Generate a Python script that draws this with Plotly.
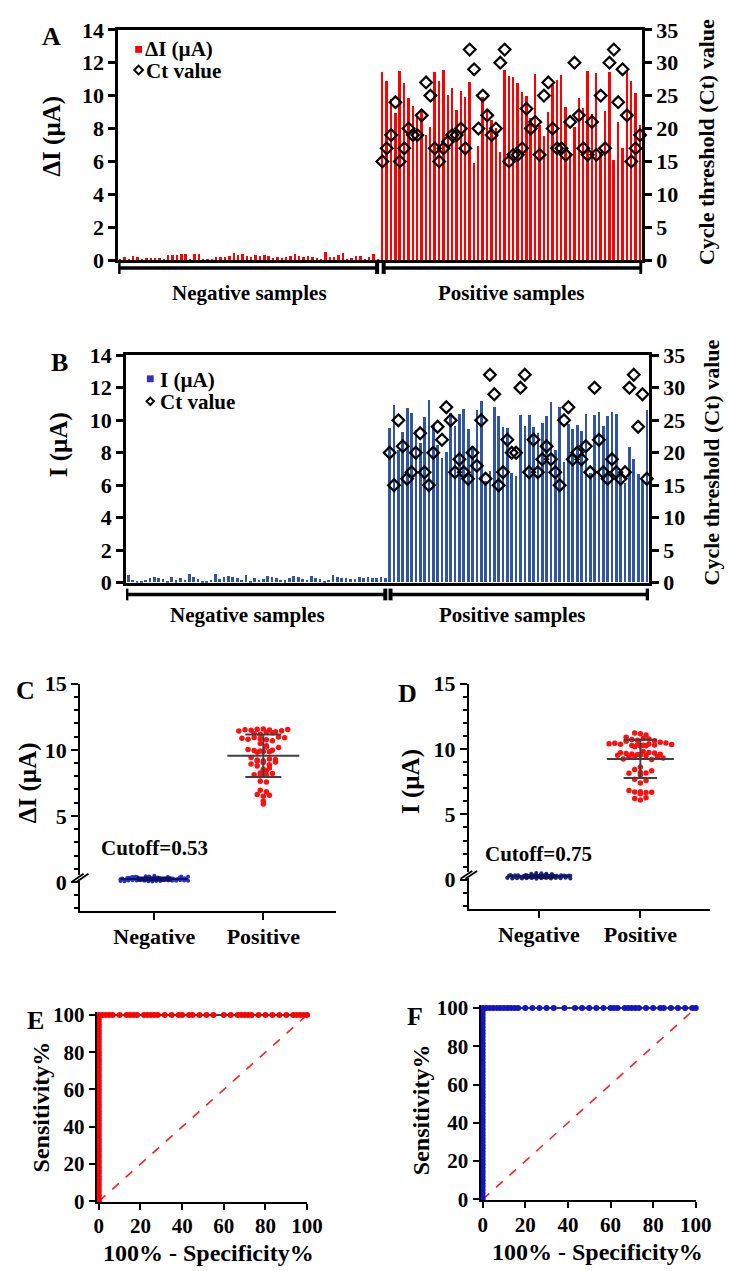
import numpy as np
import plotly.graph_objects as go

W, H = 733, 1271
def px(x): return x / W
def py(y): return 1 - y / H

FONT = "Liberation Serif"

# ---------------- data ----------------
A_neg = [0.08,0.21,0.05,0.26,0.19,0.11,0.13,0.12,0.17,0.14,0.09,0.31,0.33,0.32,0.38,0.37,0.06,0.39,0.36,0.04,
         0.07,0.08,0.18,0.22,0.23,0.24,0.43,0.35,0.41,0.28,0.22,0.30,0.27,0.34,0.29,0.15,0.18,0.16,0.20,0.25,
         0.38,0.28,0.21,0.27,0.19,0.12,0.10,0.48,0.20,0.23,0.34,0.42,0.10,0.13,0.25,0.29,0.11,0.20,0.39,0.09]
A_pos = [11.42,10.88,9.81,8.93,11.51,10.79,9.87,9.41,8.78,9.22,7.63,8.12,11.47,10.93,11.55,10.02,10.48,9.13,10.31,9.94,
         10.83,5.91,6.94,9.90,9.18,8.52,8.04,6.61,11.58,11.21,11.17,10.76,10.22,9.96,8.63,11.33,8.24,7.57,9.03,10.68,
         10.97,11.28,9.31,6.48,8.09,9.85,9.27,11.50,8.87,11.36,6.57,9.08,11.44,6.13,8.41,6.82,11.53,10.91,10.17,8.20]
A_ct = [15,17,19,24,15,17,20,19,19,22,27,25,17,15,17,18,19,19,20,17,
        32,29,20,25,22,19,20,30,32,15,16,16,17,23,20,21,16,25,27,20,
        17,17,16,21,30,22,17,16,21,16,25,17,30,32,24,29,22,15,17,19]

B_neg = [0.45,0.15,0.09,0.11,0.16,0.30,0.36,0.29,0.20,0.10,0.35,0.12,0.25,0.14,0.52,0.34,0.24,0.08,0.11,0.17,
         0.50,0.21,0.31,0.37,0.33,0.26,0.13,0.46,0.09,0.28,0.16,0.23,0.38,0.34,0.27,0.14,0.12,0.26,0.41,0.32,
         0.19,0.15,0.40,0.29,0.22,0.10,0.18,0.44,0.31,0.27,0.30,0.24,0.21,0.35,0.28,0.33,0.29,0.25,0.32,0.30]
B_pos = [9.52,10.91,8.14,9.23,10.72,10.41,9.38,8.61,10.18,11.22,9.71,8.43,7.68,8.02,10.44,9.66,10.36,10.68,9.45,8.21,
         10.59,11.17,6.22,6.83,10.81,10.27,9.54,9.49,6.71,6.58,10.33,9.62,10.29,9.58,9.19,9.82,10.24,11.08,8.17,10.77,
         7.41,9.74,9.42,9.69,9.31,10.38,6.74,10.31,10.52,9.61,10.26,10.47,10.34,6.67,6.11,8.33,7.59,6.69,6.28,10.63]
B_ct = [20,15,25,21,16,17,20,23,17,15,20,24,22,27,25,17,19,17,16,20,
        18,25,16,32,29,15,17,22,20,20,30,32,17,22,17,19,21,19,17,15,
        25,27,19,20,19,21,17,30,22,17,16,19,17,16,17,30,32,24,29,16]

groups = ["Negative", "Positive"]
bracket_labels = ["Negative samples", "Positive samples"]
legend_A = ["ΔI (µA)", "Ct value"]
legend_B = ["I (µA)", "Ct value"]
cutoff_C = "Cutoff=0.53"
cutoff_D = "Cutoff=0.75"

RED = "#ff0000"
BLUE_BAR = "#2f55a4"
BLUE_LEG = "#3430c0"

fig = go.Figure()

# ---------------- panels A & B (bars + Ct) ----------------
def bar_panel(neg, pos, ct, xa, ya, ya2, color, name, width):
    vals = list(neg) + list(pos)
    xs = np.arange(len(vals))
    fig.add_trace(go.Bar(x=xs, y=vals, marker=dict(color=color, line=dict(width=0)), width=width,
                         name=name, xaxis=xa, yaxis=ya, showlegend=False))
    xct = np.arange(len(neg), len(neg) + len(ct))
    fig.add_trace(go.Scatter(x=xct, y=ct, mode="markers", name="Ct value", showlegend=False,
                             marker=dict(symbol="diamond-open", size=9, color="black",
                                         line=dict(width=2.2, color="black")),
                             xaxis=xa, yaxis=ya2, cliponaxis=False))

bar_panel(A_neg, A_pos, A_ct, "x", "y", "y2", RED, legend_A[0], 0.55)
bar_panel(B_neg, B_pos, B_ct, "x2", "y3", "y4", BLUE_BAR, legend_B[0], 0.62)

# ---------------- panels C & D (scatter dot plots) ----------------
def swarm(vals, center, bin_size, dx, maxhalf):
    vals = np.asarray(vals, dtype=float)
    keys = np.round(vals / bin_size).astype(int)
    xs = np.empty(len(vals))
    for k in np.unique(keys):
        idx = np.where(keys == k)[0]
        n = len(idx)
        step = dx if n <= 1 else min(dx, 2 * maxhalf / (n - 1))
        xs[idx] = center + (np.arange(n) - (n - 1) / 2) * step
    return xs

def mean_sd_lines(vals, center, half_mean, half_sd):
    m = float(np.mean(vals)); s = float(np.std(vals, ddof=1))
    x = [center - half_mean, center + half_mean, None,
         center - half_sd, center + half_sd, None,
         center - half_sd, center + half_sd, None,
         center, center]
    y = [m, m, None, m + s, m + s, None, m - s, m - s, None, m - s, m + s]
    return x, y

def dot_panel(neg, pos, xa, ya, negcol):
    xn = swarm(neg, 0, 0.3, 0.05, 0.31)
    xp = swarm(pos, 1, 0.36, 0.056, 0.33)
    fig.add_trace(go.Scatter(x=xn, y=neg, mode="markers", showlegend=False,
                             marker=dict(size=4, color=negcol), xaxis=xa, yaxis=ya, cliponaxis=False))
    lx, ly = mean_sd_lines(neg, 0, 0.31, 0.16)
    fig.add_trace(go.Scatter(x=lx, y=ly, mode="lines", showlegend=False,
                             line=dict(color="#101060", width=1.8), xaxis=xa, yaxis=ya))
    fig.add_trace(go.Scatter(x=xp, y=pos, mode="markers", showlegend=False,
                             marker=dict(size=5.5, color="#ff1010"), xaxis=xa, yaxis=ya, cliponaxis=False))
    lx, ly = mean_sd_lines(pos, 1, 0.33, 0.165)
    fig.add_trace(go.Scatter(x=lx, y=ly, mode="lines", showlegend=False,
                             line=dict(color="#404040", width=2), xaxis=xa, yaxis=ya))

dot_panel(A_neg, A_pos, "x3", "y5", "#2233cc")
dot_panel(B_neg, B_pos, "x4", "y6", "#1a2a80")

# ---------------- panels E & F (ROC) ----------------
def roc(neg, pos):
    neg = np.asarray(neg); pos = np.asarray(pos)
    thr = np.unique(np.concatenate([neg, pos]))[::-1]
    fpr = [0.0]; tpr = [0.0]
    for t in thr:
        fpr.append(100 * np.mean(neg >= t)); tpr.append(100 * np.mean(pos >= t))
    return fpr, tpr

for neg, pos, xa, ya, col in [(A_neg, A_pos, "x5", "y7", "#ff0000"), (B_neg, B_pos, "x6", "y8", "#1414c8")]:
    f, t = roc(neg, pos)
    fig.add_trace(go.Scatter(x=[0, 100], y=[0, 100], mode="lines", showlegend=False,
                             line=dict(color="#ff2020", width=1.6, dash="dash"), xaxis=xa, yaxis=ya))
    fig.add_trace(go.Scatter(x=f, y=t, mode="lines+markers", showlegend=False,
                             line=dict(color="black", width=1.5),
                             marker=dict(size=6, color=col), xaxis=xa, yaxis=ya, cliponaxis=False))

# ---------------- axes ----------------
tick22 = dict(family=FONT, size=22, color="black", weight="bold")
tick21 = dict(family=FONT, size=21, color="black", weight="bold")
base = dict(showgrid=False, zeroline=False, linecolor="black", tickcolor="black")

N = len(A_neg) + len(A_pos)
layout_axes = dict(
    xaxis=dict(base, domain=[px(110), px(648)], anchor="y", range=[-0.5, N - 0.5], showline=True,
               mirror=True, linewidth=2.5, showticklabels=False, ticks=""),
    yaxis=dict(base, domain=[py(245), py(10)], anchor="x", range=[0, 14], dtick=2, tick0=0,
               ticks="outside", ticklen=7, tickwidth=2.5, showline=True, linewidth=2.5, tickfont=tick22),
    yaxis2=dict(base, overlaying="y", side="right", anchor="x", range=[0, 35], dtick=5, tick0=0,
                ticks="outside", ticklen=7, tickwidth=2.5, showline=True, linewidth=2.5, tickfont=tick22),
    xaxis2=dict(base, domain=[px(118), px(655)], anchor="y3", range=[-0.5, N - 0.5], showline=True,
                mirror=True, linewidth=2.5, showticklabels=False, ticks=""),
    yaxis3=dict(base, domain=[py(574), py(342)], anchor="x2", range=[0, 14], dtick=2, tick0=0,
                ticks="outside", ticklen=7, tickwidth=2.5, showline=True, linewidth=2.5, tickfont=tick22),
    yaxis4=dict(base, overlaying="y3", side="right", anchor="x2", range=[0, 35], dtick=5, tick0=0,
                ticks="outside", ticklen=7, tickwidth=2.5, showline=True, linewidth=2.5, tickfont=tick22),
    xaxis3=dict(base, domain=[px(71), px(334)], anchor="y5", range=[-0.68, 1.67], tickvals=[0, 1],
                ticktext=groups, ticks="outside", ticklen=7, tickwidth=2, showline=True, linewidth=2,
                tickfont=tick22, ticklabelstandoff=-3),
    yaxis5=dict(base, domain=[py(909), py(677)], anchor="x3", range=[-2.2, 15], tickvals=[0, 5, 10, 15],
                ticks="outside", ticklen=7, tickwidth=2, showline=True, linewidth=2, tickfont=tick22,
                minor=dict(dtick=1, tick0=0, ticks="outside", ticklen=4, tickwidth=1.5, tickcolor="black")),
    xaxis4=dict(base, domain=[px(470), px(718)], anchor="y6", range=[-0.69, 1.69], tickvals=[0, 1],
                ticktext=groups, ticks="outside", ticklen=7, tickwidth=2, showline=True, linewidth=2,
                tickfont=tick22, ticklabelstandoff=-3),
    yaxis6=dict(base, domain=[py(907), py(677)], anchor="x4", range=[-2.25, 15], tickvals=[0, 5, 10, 15],
                ticks="outside", ticklen=7, tickwidth=2, showline=True, linewidth=2, tickfont=tick22,
                minor=dict(dtick=1, tick0=0, ticks="outside", ticklen=4, tickwidth=1.5, tickcolor="black")),
    xaxis5=dict(base, domain=[px(88), px(304)], anchor="y7", range=[-1, 100], dtick=20, tick0=0,
                ticks="outside", ticklen=6, tickwidth=2, showline=True, linewidth=2, tickfont=tick21,
                ticklabelstandoff=-2),
    yaxis7=dict(base, domain=[py(1206), py(1012)], anchor="x5", range=[-0.5, 101.5], dtick=20, tick0=0,
                ticks="outside", ticklen=6, tickwidth=2, showline=True, linewidth=2, tickfont=tick21),
    xaxis6=dict(base, domain=[px(482), px(703)], anchor="y8", range=[-1, 100], dtick=20, tick0=0,
                ticks="outside", ticklen=6, tickwidth=2, showline=True, linewidth=2, tickfont=tick21,
                ticklabelstandoff=-2),
    yaxis8=dict(base, domain=[py(1204), py(1005)], anchor="x6", range=[-0.5, 101.5], dtick=20, tick0=0,
                ticks="outside", ticklen=6, tickwidth=2, showline=True, linewidth=2, tickfont=tick21),
)

# ---------------- annotations ----------------
def ann(text, x, y, size, angle=0, xref="paper", yref="paper", xanchor="center"):
    return dict(text=text, x=x, y=y, xref=xref, yref=yref, showarrow=False, textangle=angle,
                xanchor=xanchor, yanchor="middle", borderpad=0,
                font=dict(family=FONT, size=size, color="black", weight="bold"))

n_neg = len(A_neg)
annotations = [
    ann("A", px(42), py(17), 26), ann("B", px(50), py(349), 26), ann("C", px(15), py(684), 26),
    ann("D", px(407), py(687), 26), ann("E", px(25), py(1021), 26), ann("F", px(415), py(1017), 26),
    ann("ΔI (µA)", px(42), py(118), 25, -90),
    ann("Cycle threshold (Ct) value", px(714), py(124), 22, -90),
    ann("I (µA)", px(50), py(433), 25, -90),
    ann("Cycle threshold (Ct) value", px(719), py(451), 22, -90),
    ann(bracket_labels[0], (n_neg - 1) / 2, py(278), 21, xref="x"),
    ann(bracket_labels[1], n_neg + (len(A_pos) - 1) / 2, py(278), 21, xref="x"),
    ann(bracket_labels[0], (n_neg - 1) / 2 - 2, py(607), 21, xref="x2"),
    ann(bracket_labels[1], n_neg + (len(B_pos) - 1) / 2 - 1.5, py(607), 21, xref="x2"),
    ann("ΔI (µA)", px(17), py(778), 25, -90),
    ann("I (µA)", px(410), py(777), 25, -90),
    ann(cutoff_C, 0, 2.55, 21, xref="x3", yref="y5"),
    ann(cutoff_D, 0, 1.95, 21, xref="x4", yref="y6"),
    ann("100% - Specificity%", px(203), py(1258), 24),
    ann("100% - Specificity%", px(602), py(1257), 24),
    ann("Sensitivity%", px(31), py(1109), 24, -90),
    ann("Sensitivity%", px(421), py(1112), 24, -90),
    # legends
    ann(legend_A[0], px(137), py(30), 21, xanchor="left"),
    ann(legend_A[1], px(138), py(52), 21, xanchor="left"),
    ann(legend_B[0], px(152), py(367), 21, xanchor="left"),
    ann(legend_B[1], px(152), py(390), 21, xanchor="left"),
]

# ---------------- shapes (brackets, axis breaks, legend keys) ----------------
shapes = []
def bracket(xref, x0, x1, ypix):
    shapes.append(dict(type="line", xref=xref, yref="paper", x0=x0, x1=x1, y0=py(ypix), y1=py(ypix),
                       line=dict(color="black", width=3.5)))
    for xx in (x0, x1):
        shapes.append(dict(type="line", xref=xref, yref="paper", x0=xx, x1=xx, y0=py(ypix - 6),
                           y1=py(ypix + 6), line=dict(color="black", width=4)))

bracket("x", -0.4, n_neg - 1.2, 253)
bracket("x", n_neg + 0.3, N - 0.7, 253)
bracket("x2", -0.4, n_neg - 1.0, 586)
bracket("x2", n_neg + 0.2, N - 0.8, 586)

def axis_break(xp, yp):
    shapes.append(dict(type="rect", xref="paper", yref="paper", x0=px(xp - 2), x1=px(xp + 2),
                       y0=py(yp + 3), y1=py(yp - 3), fillcolor="white", line=dict(width=0)))
    for dx in (-2.5, 2.5):
        shapes.append(dict(type="line", xref="paper", yref="paper", x0=px(xp + dx - 6), x1=px(xp + dx + 6),
                           y0=py(yp + 4), y1=py(yp - 4), line=dict(color="black", width=1.8)))

axis_break(71, 875)
axis_break(470, 872)

def key_square(cx, cy, color, s=3.5):
    shapes.append(dict(type="rect", xref="paper", yref="paper", x0=px(cx - s), x1=px(cx + s),
                       y0=py(cy + s), y1=py(cy - s), fillcolor=color, line=dict(width=0)))

def key_diamond(cx, cy, r=4.5):
    path = "M {} {} L {} {} L {} {} L {} {} Z".format(px(cx), py(cy - r), px(cx + r), py(cy),
                                                       px(cx), py(cy + r), px(cx - r), py(cy))
    shapes.append(dict(type="path", xref="paper", yref="paper", path=path,
                       line=dict(color="black", width=2)))

key_square(131, 30, RED)
key_diamond(131, 51)
key_square(143, 366, BLUE_LEG)
key_diamond(143, 389, 3.8)

fig.update_layout(
    width=W, height=H, margin=dict(l=0, r=0, t=0, b=0),
    paper_bgcolor="white", plot_bgcolor="white",
    font=dict(family=FONT, color="black"),
    showlegend=False, bargap=0,
    annotations=annotations, shapes=shapes,
    **layout_axes,
)

fig.write_html("out.html")
